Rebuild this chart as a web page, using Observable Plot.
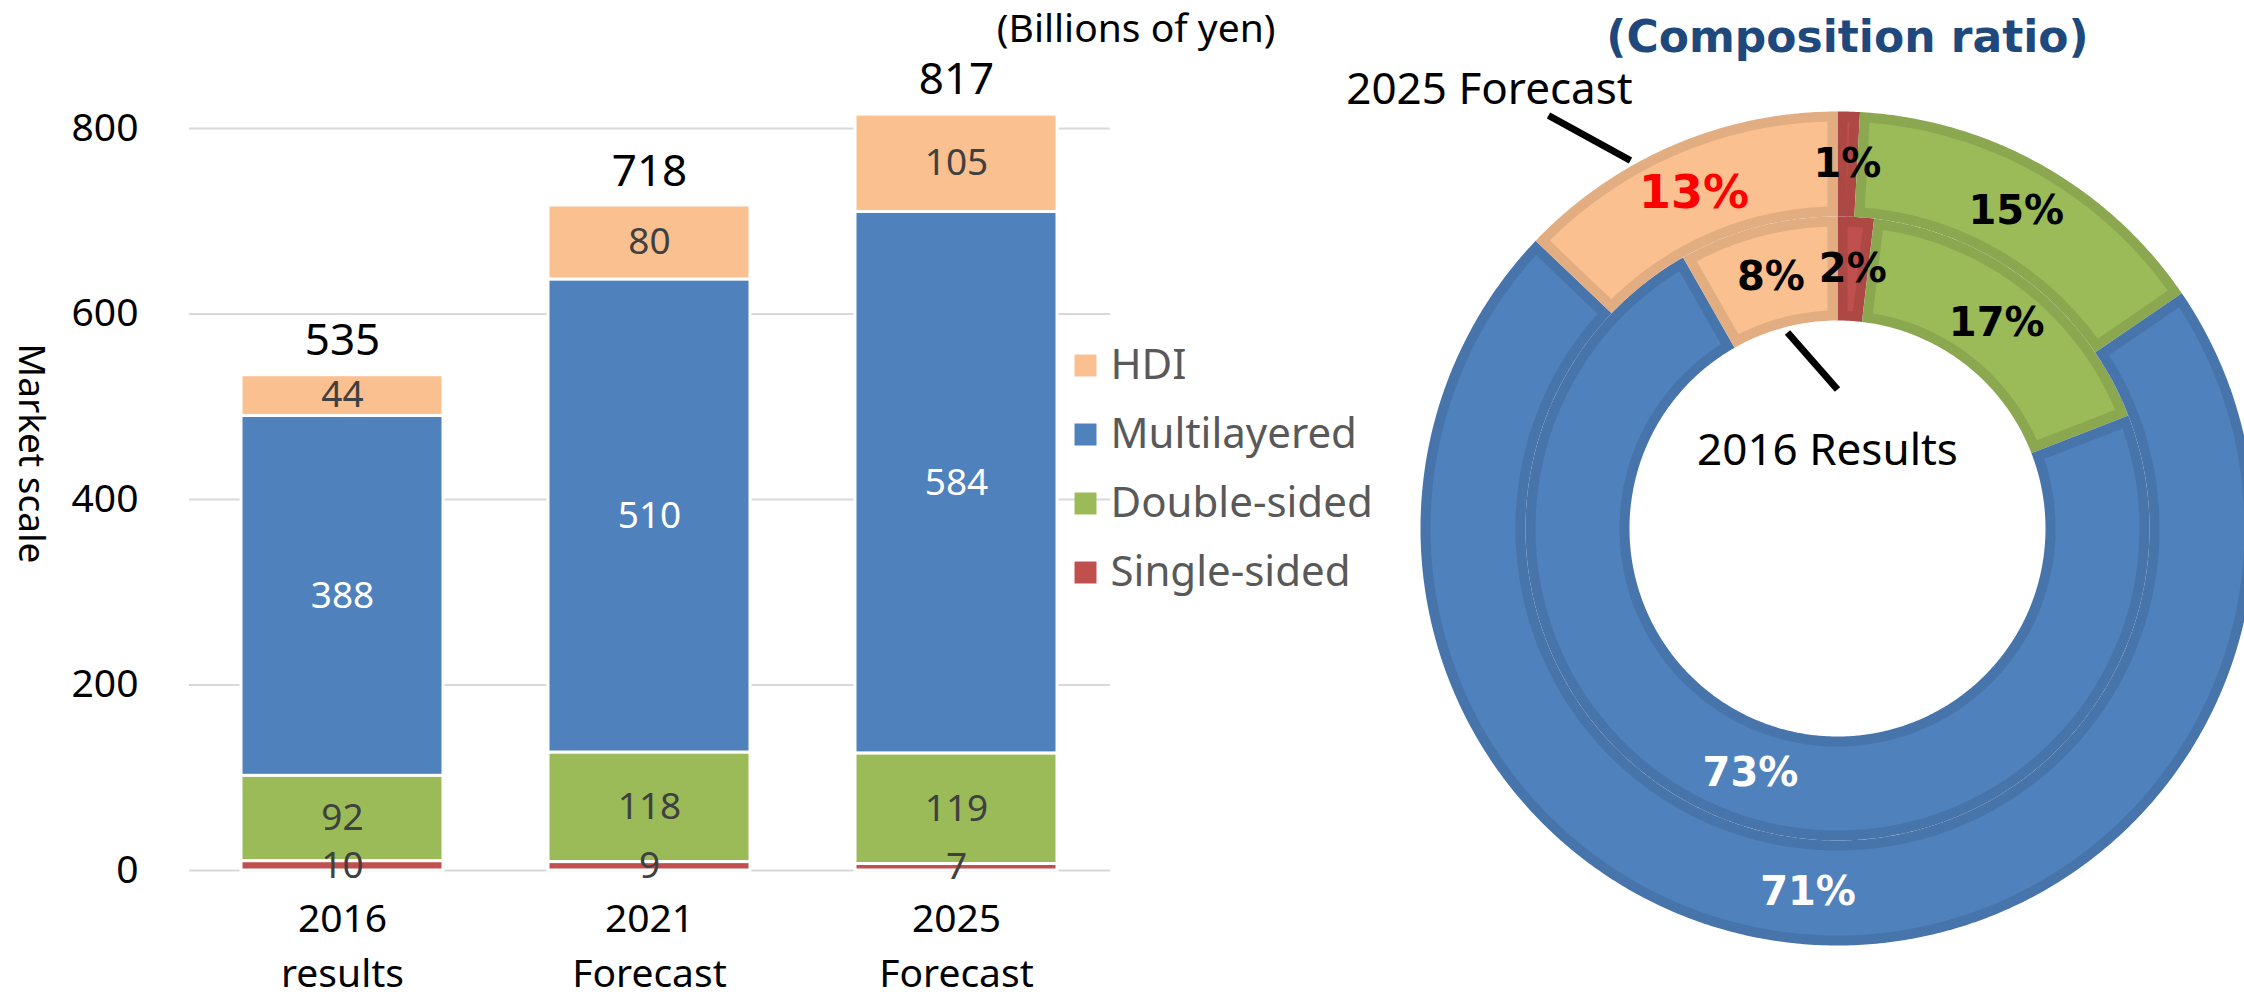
<!DOCTYPE html>
<html><head><meta charset="utf-8">
<script src="https://cdn.jsdelivr.net/npm/d3@7"></script>
<script src="https://cdn.jsdelivr.net/npm/@observablehq/plot@0.6"></script>
<style>
html,body{margin:0;padding:0;background:#fff;overflow:hidden;}
#root{position:relative;width:2244px;height:1003px;overflow:hidden;}
</style></head><body><div id="root"></div>
<script>
// ---- data ----
const categories = ["2016\nresults", "2021\nForecast", "2025\nForecast"];
const series = ["HDI", "Multilayered", "Double-sided", "Single-sided"];
const hdi = [44, 80, 105];
const multilayered = [388, 510, 584];
const doubleSided = [92, 118, 119];
const singleSided = [10, 9, 7];
const totals = [535, 718, 817];
const yTicks = [0, 200, 400, 600, 800];
const colors = ["#FAC090", "#4F81BD", "#9BBB59", "#C0504D"];
const stackOrder = ["Single-sided", "Double-sided", "Multilayered", "HDI"];
const donutYears = [0, 2]; // inner ring: 2016 results, outer ring: 2025 forecast

const byName = {"HDI": hdi, "Multilayered": multilayered, "Double-sided": doubleSided, "Single-sided": singleSided};
const colorOf = Object.fromEntries(series.map((s, i) => [s, colors[i]]));
const darkOf = s => d3.color(colorOf[s]).darker(0.3).formatHex();
const rows = categories.flatMap((c, i) => series.map(s => ({category: c, series: s, value: byName[s][i]})));
const totalRows = categories.map((c, i) => ({category: c, total: totals[i]}));

const root = document.getElementById("root");
const baseStyle = {position: "absolute", top: "0px", background: "transparent", maxWidth: "none", overflow: "visible", fontFamily: "'Noto Sans', sans-serif"};

// ---- stacked bars ----
const barPlot = Plot.plot({
  width: 1290, height: 1003,
  marginLeft: 189, marginRight: 180, marginTop: 128, marginBottom: 133,
  style: {...baseStyle, left: "0px"},
  x: {domain: categories, paddingInner: 0.342, paddingOuter: 0.171},
  y: {domain: [0, 800]},
  color: {domain: series, range: colors},
  marks: [
    Plot.gridY(yTicks, {stroke: "#d9d9d9", strokeOpacity: 1, strokeWidth: 2}),
    Plot.barY(rows, Plot.stackY({x: "category", y: "value", z: "series", fill: "series", order: stackOrder, stroke: "white", strokeWidth: 3})),
    Plot.text(rows, Plot.stackY({x: "category", y: "value", z: "series", order: stackOrder,
      text: d => d.series === "Multilayered" ? String(d.value) : null, fill: "white", fontSize: 37})),
    Plot.text(rows, Plot.stackY({x: "category", y: "value", z: "series", order: stackOrder,
      text: d => d.series !== "Multilayered" ? String(d.value) : null, fill: "#404040", fontSize: 37})),
    Plot.text(totalRows, {x: "category", y: "total", text: d => String(d.total), dy: -33, fontSize: 44, fill: "black"}),
    Plot.axisY(yTicks, {tickSize: 0, tickPadding: 51, fontSize: 39, label: null}),
    Plot.axisX({tickSize: 0, tickPadding: 22, fontSize: 39, lineHeight: 1.42, label: null}),
    Plot.text(["Market scale"], {frameAnchor: "left", dx: -159, dy: -46, rotate: 90, textAnchor: "middle", lineAnchor: "middle", fontSize: 37, fill: "black"}),
    Plot.text(["(Billions of yen)"], {frameAnchor: "top-right", dx: 165, dy: -99, textAnchor: "end", lineAnchor: "middle", fontSize: 39, fill: "black"})
  ]
});
root.appendChild(barPlot);

// ---- legend ----
const legendPlot = Plot.plot({
  width: 330, height: 300, margin: 0,
  style: {...baseStyle, left: "1060px", top: "320px"},
  x: {axis: null},
  y: {type: "point", domain: series, range: [43.5, 252.5], padding: 0, axis: null},
  color: {domain: series, range: colors},
  marks: [
    Plot.dot(series, {y: d => d, fill: d => d, symbol: "square", r: 12.4, frameAnchor: "left", dx: 25}),
    Plot.text(series, {y: d => d, text: d => d, frameAnchor: "left", dx: 50, textAnchor: "start", lineAnchor: "middle", fill: "#595959", fontSize: 42})
  ]
});
root.appendChild(legendPlot);

// ---- doughnut ----
const ringRadii = [[20.8, 31.2], [31.2, 41.7]]; // in projection degrees (10 px each)
const slices = donutYears.flatMap((col, ri) => {
  const [r0, r1] = ringRadii[ri];
  const vals = stackOrder.map(s => byName[s][col]);
  const sum = d3.sum(vals);
  let acc = 0;
  return stackOrder.map((s, j) => {
    const a0 = acc / sum * 360; acc += vals[j]; const a1 = acc / sum * 360;
    return {series: s, col, a0, a1, r0, r1, pct: Math.round(vals[j] / totals[col] * 100)};
  });
});

function sector(a0, a1, r0, r1, inset) {
  const ro = r1 - inset, rin = r0 + inset;
  const span = r => {
    const d = inset ? Math.asin(Math.min(1, inset / r)) * 180 / Math.PI : 0;
    const m = (a0 + a1) / 2;
    return [Math.min(a0 + d, m), Math.max(a1 - d, m)];
  };
  const pts = [];
  const arc = (b0, b1, r, rev) => {
    if (b1 - b0 < 1e-6) { pts.push([180 - b0, 90 - r]); return; }
    const n = Math.max(2, Math.ceil((b1 - b0) / 0.5));
    for (let k = 0; k <= n; k++) {
      const t = b0 + (b1 - b0) * (rev ? n - k : k) / n;
      pts.push([180 - t, 90 - r]);
    }
  };
  const [oa0, oa1] = span(ro), [ia0, ia1] = span(rin);
  arc(oa0, oa1, ro, false);
  arc(ia0, ia1, rin, true);
  pts.push(pts[0]);
  let g = {type: "Polygon", coordinates: [pts]};
  if (d3.geoArea(g) > 2 * Math.PI) g = {type: "Polygon", coordinates: [pts.slice().reverse()]};
  return g;
}
const outerFeatures = slices.map(d => ({type: "Feature", properties: d, geometry: sector(d.a0, d.a1, d.r0, d.r1, 0)}));
const innerFeatures = slices.map(d => ({type: "Feature", properties: d, geometry: sector(d.a0, d.a1, d.r0, d.r1, 1.0)}));

const donutLeft = 1250;
const proj = d3.geoAzimuthalEquidistant().rotate([0, -90]).scale(10 * 180 / Math.PI).translate([1837 - donutLeft, 528]);
const inv = (x, y) => proj.invert([x - donutLeft, y]);
const leaders = [[inv(1548, 115), inv(1630, 160)], [inv(1787, 332), inv(1837, 389)]];

const isRed = d => d.series === "HDI" && d.col === 2;
const donutPlot = Plot.plot({
  width: 994, height: 1003, margin: 0,
  projection: proj,
  color: {type: "identity"},
  style: {...baseStyle, left: donutLeft + "px"},
  marks: [
    Plot.geo(outerFeatures, {fill: f => darkOf(f.properties.series)}),
    Plot.geo(innerFeatures, {fill: f => colorOf[f.properties.series]}),
    Plot.text(slices, {
      x: d => 180 - (d.a0 + d.a1) / 2, y: d => 90 - (d.r0 + d.r1) / 2,
      text: d => d.pct + "%",
      fill: d => d.series === "Multilayered" ? "white" : isRed(d) ? "#FF0000" : "black",
      fontSize: d => isRed(d) ? 46 : 40,
      fontWeight: "bold", fontFamily: "'DejaVu Sans', sans-serif", lineAnchor: "middle"
    }),
    Plot.link(leaders, {x1: d => d[0][0], y1: d => d[0][1], x2: d => d[1][0], y2: d => d[1][1], stroke: "black", strokeWidth: 7}),
    Plot.text(["2025 Forecast"], {frameAnchor: "top-left", dx: 1489 - donutLeft, dy: 89, textAnchor: "middle", lineAnchor: "middle", fontSize: 44, fill: "black"}),
    Plot.text(["2016 Results"], {frameAnchor: "top-left", dx: 1827 - donutLeft, dy: 450, textAnchor: "middle", lineAnchor: "middle", fontSize: 44, fill: "black"}),
    Plot.text(["(Composition ratio)"], {frameAnchor: "top-left", dx: 1847 - donutLeft, dy: 37, textAnchor: "middle", lineAnchor: "middle", fontSize: 44, fontWeight: "bold", fontFamily: "'DejaVu Sans', sans-serif", fill: "#1F497D"})
  ]
});
root.appendChild(donutPlot);
</script></body></html>
